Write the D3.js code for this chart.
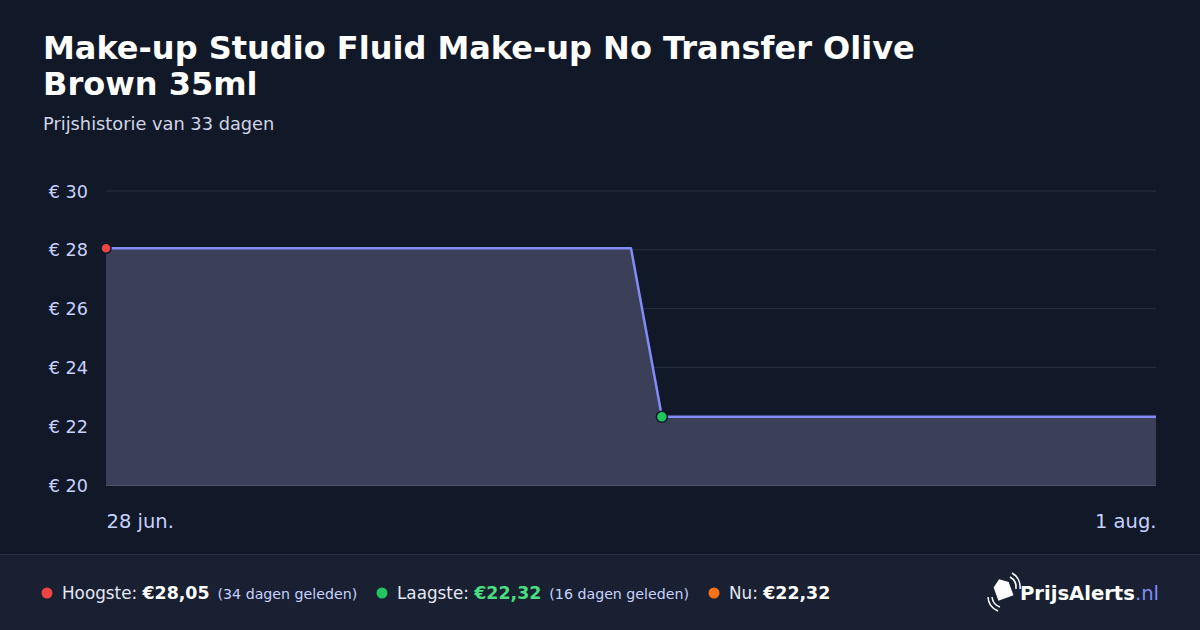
<!DOCTYPE html>
<html><head><meta charset="utf-8">
<script src="https://cdn.jsdelivr.net/npm/d3@7"></script>
<style>
html,body{margin:0;padding:0;background:#111827;}
svg{display:block;font-family:"DejaVu Sans",sans-serif;}
</style></head>
<body>
<svg id="c" width="1200" height="630"></svg>
<script>
const titleLines = ["Make-up Studio Fluid Make-up No Transfer Olive", "Brown 35ml"];
const subtitle = "Prijshistorie van 33 dagen";
const dates = ["2024-06-28", "2024-07-15", "2024-07-16", "2024-08-01"];
const prices = [28.05, 28.05, 22.32, 22.32];
const yTicks = [20, 22, 24, 26, 28, 30];
const xTickLabels = ["28 jun.", "1 aug."];
const highest = {label: "Hoogste:", value: "€28,05", note: "(34 dagen geleden)"};
const lowest = {label: "Laagste:", value: "€22,32", note: "(16 dagen geleden)"};
const current = {label: "Nu:", value: "€22,32"};

const parse = d3.timeParse("%Y-%m-%d");
const data = dates.map((d, i) => ({date: parse(d), price: prices[i]}));

const svg = d3.select("#c");
const W = 1200, H = 630;
const m = {left: 106, right: 1156, top: 191, bottom: 485};

svg.append("rect").attr("width", W).attr("height", H).attr("fill", "#111827");

// title
const t = svg.append("text").attr("x", 43).attr("fill", "#ffffff")
  .attr("font-size", 32).attr("font-weight", "bold");
titleLines.forEach((l, i) => t.append("tspan").attr("x", 43).attr("y", 59 + i * 36).text(l));
svg.append("text").attr("x", 43).attr("y", 130).attr("fill", "#d1d5e8")
  .attr("font-size", 17.8).text(subtitle);

const x = d3.scaleTime().domain([data[0].date, data[data.length - 1].date]).range([m.left, m.right]);
const y = d3.scaleLinear().domain([20, 30]).range([m.bottom, m.top]);

// grid
svg.append("g").selectAll("line").data(yTicks.filter(v => v !== 20)).join("line")
  .attr("x1", m.left).attr("x2", m.right)
  .attr("y1", d => y(d)).attr("y2", d => y(d))
  .attr("stroke", "#283044").attr("stroke-width", 1);

// y labels
const yAxis = d3.axisLeft(y).tickValues(yTicks).tickSize(0).tickPadding(0)
  .tickFormat(d => "€ " + d);
const gy = svg.append("g").attr("transform", `translate(88,0)`).call(yAxis);
gy.select(".domain").remove();
gy.selectAll("text").attr("fill", "#c7d2fe").attr("font-size", 17.6)
  .attr("font-family", "DejaVu Sans, sans-serif").attr("dy", "0.35em");

// area
const area = d3.area().x(d => x(d.date)).y0(y(20)).y1(d => y(d.price));
svg.append("path").datum(data).attr("d", area).attr("fill", "#3b3f58");

// baseline
svg.append("line").attr("x1", m.left).attr("x2", m.right)
  .attr("y1", m.bottom + 0.5).attr("y2", m.bottom + 0.5)
  .attr("stroke", "#4b5263").attr("stroke-width", 1);

// line
const line = d3.line().x(d => x(d.date)).y(d => y(d.price));
svg.append("path").datum(data).attr("d", line).attr("fill", "none")
  .attr("stroke", "#818cf8").attr("stroke-width", 2.5).attr("stroke-linejoin", "round");

// x labels
const xAxis = d3.axisBottom(x).tickValues([data[0].date, data[data.length - 1].date])
  .tickSize(0).tickPadding(0).tickFormat((d, i) => xTickLabels[i]);
const gx = svg.append("g").attr("transform", `translate(0,${m.bottom})`).call(xAxis);
gx.select(".domain").remove();
gx.selectAll("text").attr("fill", "#c7d2fe").attr("font-size", 19.5)
  .attr("font-family", "DejaVu Sans, sans-serif").attr("dy", 0).attr("y", 43)
  .attr("text-anchor", (d, i) => i === 0 ? "start" : "end");

// points
const hi = data[0];
const lo = data[2];
svg.append("circle").attr("cx", x(hi.date)).attr("cy", y(hi.price)).attr("r", 5)
  .attr("fill", "#ef4444").attr("stroke", "#111827").attr("stroke-width", 1.5);
svg.append("circle").attr("cx", x(lo.date)).attr("cy", y(lo.price)).attr("r", 5.5)
  .attr("fill", "#22c55e").attr("stroke", "#111827").attr("stroke-width", 1.5);

// footer
svg.append("rect").attr("x", 0).attr("y", 554).attr("width", W).attr("height", H - 554).attr("fill", "#182031");
svg.append("line").attr("x1", 0).attr("x2", W).attr("y1", 554.5).attr("y2", 554.5).attr("stroke", "#27304a");

function stat(xp, color, s, valColor) {
  svg.append("circle").attr("cx", xp).attr("cy", 593).attr("r", 5.5).attr("fill", color);
  const tx = svg.append("text").attr("x", xp + 15).attr("y", 599).attr("font-size", 16.8).attr("fill", "#e5e7f5");
  tx.append("tspan").text(s.label + " ");
  tx.append("tspan").attr("font-weight", "bold").attr("fill", valColor).attr("font-size", 17.4).text(s.value);
  if (s.note) tx.append("tspan").attr("font-size", 14.2).attr("fill", "#c7d2fe").attr("dx", 8).text(s.note);
}
stat(47, "#ef4444", highest, "#ffffff");
stat(382, "#22c55e", lowest, "#4ade80");
stat(714, "#f97316", current, "#ffffff");

// logo
const lg = svg.append("g").attr("transform", "translate(1002,593)");
lg.append("path").attr("d", "M-6,-8 L2,-14 L10,-8 L10,6 L-6,6 Z").attr("fill", "#ffffff")
  .attr("transform", "rotate(-20)");
lg.append("path").attr("d", "M-10,4 A12,12 0 0 0 -2,14").attr("fill", "none").attr("stroke", "#ffffff").attr("stroke-width", 1.5);
lg.append("path").attr("d", "M-14,4 A16,16 0 0 0 -4,18").attr("fill", "none").attr("stroke", "#ffffff").attr("stroke-width", 1.5);
lg.append("path").attr("d", "M8,-16 A12,12 0 0 1 14,-4").attr("fill", "none").attr("stroke", "#ffffff").attr("stroke-width", 1.5);
lg.append("path").attr("d", "M10,-20 A16,16 0 0 1 18,-4").attr("fill", "none").attr("stroke", "#ffffff").attr("stroke-width", 1.5);
const lt = svg.append("text").attr("x", 1159).attr("y", 600).attr("text-anchor", "end").attr("font-size", 19.6);
lt.append("tspan").attr("font-weight", "bold").attr("fill", "#ffffff").text("PrijsAlerts");
lt.append("tspan").attr("fill", "#818cf8").text(".nl");
</script>
</body></html>
